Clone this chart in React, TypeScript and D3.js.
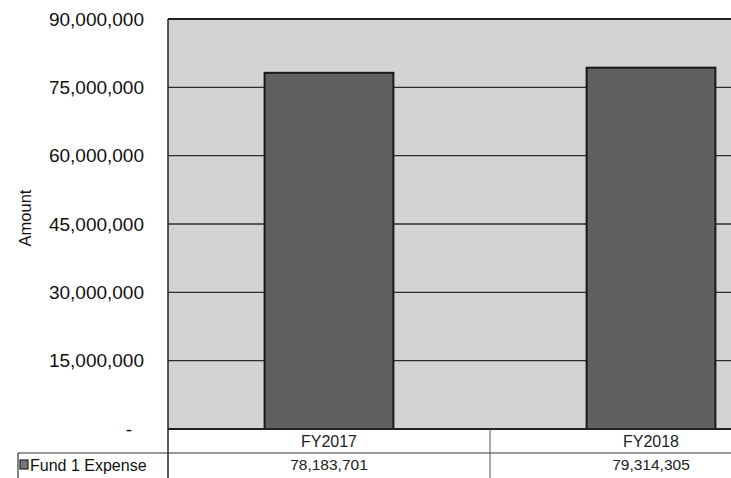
import * as d3 from "d3";
import { useEffect, useRef } from "react";

const categories = ["FY2017", "FY2018"];
const seriesName = "Fund 1 Expense";
const values = [78183701, 79314305];
const valueLabels = ["78,183,701", "79,314,305"];
const yTicks = [0, 15000000, 30000000, 45000000, 60000000, 75000000, 90000000];

const W = 731;
const H = 478;

export default function App() {
  const svgRef = useRef<SVGSVGElement>(null);

  useEffect(() => {
    const svg = d3.select(svgRef.current);
    svg.selectAll("*").remove();

    const left = 168;
    const top = 19;
    const bottom = 429;
    // the picture is cropped: the second category runs past the right edge
    const right = 812;

    const x = d3.scaleBand<string>().domain(categories).range([left, right]).paddingInner(0).paddingOuter(0);
    const y = d3.scaleLinear().domain([0, 90000000]).range([bottom, top]);
    const font = "'Liberation Sans', Arial, sans-serif";

    // plot background
    svg.append("rect")
      .attr("x", left).attr("y", top)
      .attr("width", W - left).attr("height", bottom - top)
      .attr("fill", "#d3d3d3");

    // gridlines
    svg.append("g")
      .selectAll("line")
      .data(yTicks.filter((t) => t > 0))
      .join("line")
      .attr("x1", left).attr("x2", W)
      .attr("y1", (d) => y(d)).attr("y2", (d) => y(d))
      .attr("stroke", "#2e2e2e")
      .attr("stroke-width", 1.3);

    // bars
    const barW = x.bandwidth() * 0.4;
    svg.append("g")
      .selectAll("rect")
      .data(values)
      .join("rect")
      .attr("x", (_, i) => x(categories[i])! + (x.bandwidth() - barW) / 2)
      .attr("y", (d) => y(d))
      .attr("width", barW)
      .attr("height", (d) => bottom - y(d))
      .attr("fill", "#606060")
      .attr("stroke", "#1a1a1a")
      .attr("stroke-width", 2);

    // plot frame
    svg.append("line").attr("x1", left).attr("x2", left).attr("y1", top).attr("y2", H)
      .attr("stroke", "#222").attr("stroke-width", 1.5);
    svg.append("line").attr("x1", left).attr("x2", W).attr("y1", top).attr("y2", top)
      .attr("stroke", "#222").attr("stroke-width", 2);
    svg.append("line").attr("x1", left).attr("x2", W).attr("y1", bottom).attr("y2", bottom)
      .attr("stroke", "#222").attr("stroke-width", 2);

    // y tick labels
    svg.append("g")
      .selectAll("text")
      .data(yTicks)
      .join("text")
      .attr("x", (d) => (d === 0 ? 132 : 144))
      .attr("y", (d) => y(d))
      .attr("dy", "0.35em")
      .attr("text-anchor", "end")
      .attr("font-family", font)
      .attr("font-size", 19)
      .attr("fill", "#111")
      .text((d) => (d === 0 ? "-" : d3.format(",")(d)));

    // y axis title
    svg.append("text")
      .attr("transform", "translate(31,218) rotate(-90)")
      .attr("text-anchor", "middle")
      .attr("font-family", font)
      .attr("font-size", 16.5)
      .attr("fill", "#111")
      .text("Amount");

    // data table
    const rowLine = 453;
    svg.append("line").attr("x1", 18).attr("x2", W).attr("y1", rowLine).attr("y2", rowLine)
      .attr("stroke", "#333").attr("stroke-width", 1.2);
    svg.append("line").attr("x1", 18).attr("x2", 18).attr("y1", rowLine).attr("y2", H)
      .attr("stroke", "#333").attr("stroke-width", 1.2);
    svg.append("g")
      .selectAll("line")
      .data(categories.slice(1))
      .join("line")
      .attr("x1", (d) => x(d)!).attr("x2", (d) => x(d)!)
      .attr("y1", bottom).attr("y2", H)
      .attr("stroke", "#555").attr("stroke-width", 1);

    svg.append("g")
      .selectAll("text")
      .data(categories)
      .join("text")
      .attr("x", (d) => x(d)! + x.bandwidth() / 2)
      .attr("y", 441)
      .attr("dy", "0.35em")
      .attr("text-anchor", "middle")
      .attr("font-family", font)
      .attr("font-size", 16)
      .attr("fill", "#222")
      .text((d) => d);

    svg.append("g")
      .selectAll("text")
      .data(valueLabels)
      .join("text")
      .attr("x", (_, i) => x(categories[i])! + x.bandwidth() / 2)
      .attr("y", 465)
      .attr("dy", "0.35em")
      .attr("text-anchor", "middle")
      .attr("font-family", font)
      .attr("font-size", 15.5)
      .attr("fill", "#222")
      .text((d) => d);

    // legend key + series name
    svg.append("rect").attr("x", 20).attr("y", 460).attr("width", 8).attr("height", 9)
      .attr("fill", "#777").attr("stroke", "#222").attr("stroke-width", 1.2);
    svg.append("text")
      .attr("x", 30).attr("y", 465).attr("dy", "0.35em")
      .attr("font-family", font).attr("font-size", 16).attr("fill", "#111")
      .text(seriesName);
  }, []);

  return (
    <svg
      ref={svgRef}
      width={W}
      height={H}
      style={{ position: "absolute", left: 0, top: 0, background: "#fff" }}
    />
  );
}
